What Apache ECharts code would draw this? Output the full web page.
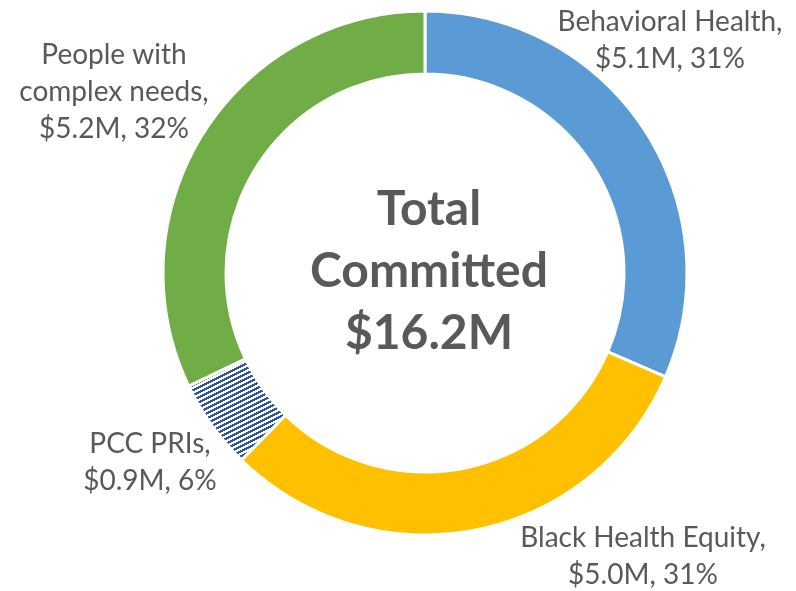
<!DOCTYPE html>
<html>
<head>
<meta charset="utf-8">
<script src="https://cdn.jsdelivr.net/npm/echarts@6/dist/echarts.min.js"></script>
<style>
  html, body { margin: 0; padding: 0; background: #fff; }
  #chart { width: 796px; height: 591px; }
</style>
</head>
<body>
<div id="chart"></div>
<script>
  // chart values
  const categories = ['Behavioral Health', 'Black Health Equity', 'PCC PRIs', 'People with\ncomplex needs'];
  const amounts = [5.1, 5.0, 0.9, 5.2];
  const percents = [31, 31, 6, 32];
  const centerTitle = ['Total', 'Committed'];

  const textColor = '#595959';
  const font = 'Lato, "Open Sans", sans-serif';

  // staircase stripe fill for the small slice
  const makeHatch = () => {
    const c = document.createElement('canvas');
    c.width = 10;
    c.height = 5;
    const ctx = c.getContext('2d');
    ctx.fillStyle = '#ffffff';
    ctx.fillRect(0, 0, 10, 5);
    ctx.fillStyle = '#2F5597';
    for (let y = 0; y < 5; y++) {
      for (let x = 0; x < 10; x++) {
        if ((x + 2 * y) % 10 < 5) ctx.fillRect(x, y, 1, 1);
      }
    }
    return c;
  };

  const colors = ['#5B9BD5', '#FFC000', { image: makeHatch(), repeat: 'repeat' }, '#70AD47'];

  // where each label block sits (centre of block)
  const labelPos = [
    [670, 40],
    [643, 556],
    [150, 462],
    [114, 92],
  ];

  const total = amounts.reduce((a, b) => a + b, 0);

  const chart = echarts.init(document.getElementById('chart'));
  chart.setOption({
    animation: false,
    graphic: [
      {
        type: 'text',
        x: 429,
        y: 272,
        style: {
          text: centerTitle.join('\n') + '\n$' + total.toFixed(1) + 'M',
          fill: textColor,
          font: 'bold 48px ' + font,
          lineHeight: 62,
          align: 'center',
          verticalAlign: 'middle',
        },
      },
    ],
    series: [
      {
        type: 'pie',
        center: [425, 273],
        radius: [199, 262],
        startAngle: 90,
        clockwise: true,
        data: categories.map((name, i) => ({
          name,
          value: amounts[i],
          itemStyle: { color: colors[i] },
        })),
        itemStyle: {
          borderColor: '#ffffff',
          borderWidth: 3,
        },
        label: {
          show: true,
          position: 'outside',
          color: textColor,
          fontFamily: font,
          fontSize: 28,
          lineHeight: 37,
          align: 'center',
          overflow: 'none',
          formatter: (p) => p.name + ',\n$' + amounts[p.dataIndex].toFixed(1) + 'M, ' + percents[p.dataIndex] + '%',
        },
        labelLine: { show: false },
        labelLayout: (params) => ({
          x: labelPos[params.dataIndex][0],
          y: labelPos[params.dataIndex][1],
          align: 'center',
          verticalAlign: 'middle',
          width: 400,
        }),
        emphasis: { disabled: true },
      },
    ],
  });
</script>
</body>
</html>
